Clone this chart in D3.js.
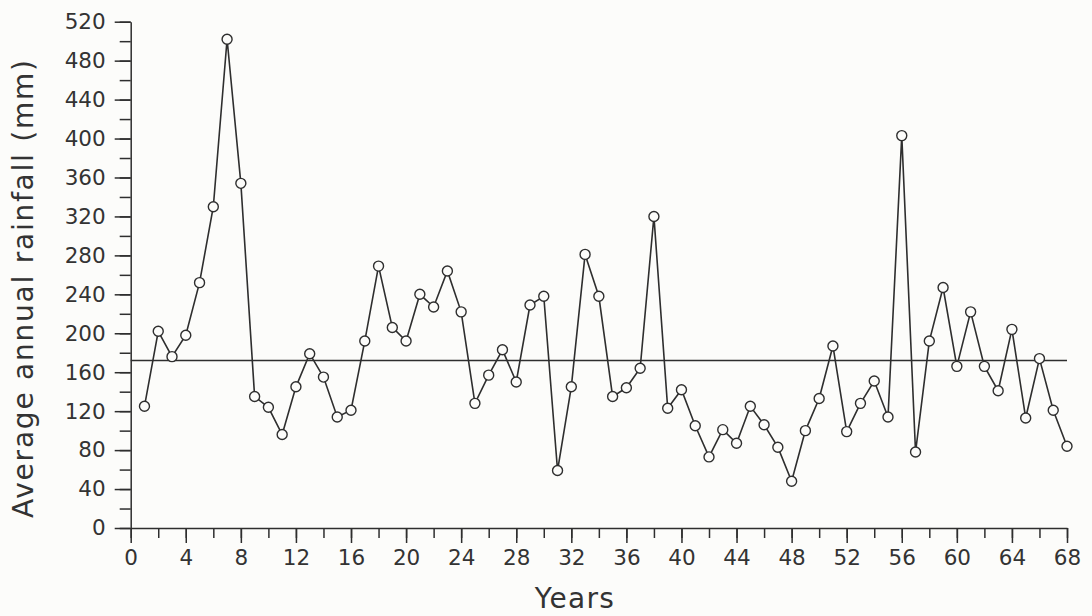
<!DOCTYPE html>
<html>
<head>
<meta charset="utf-8">
<script src="https://cdn.jsdelivr.net/npm/d3@7"></script>
<style>
  html, body { margin: 0; padding: 0; background: #fcfcfa; }
  svg { display: block; }
  text { font-family: "DejaVu Sans", sans-serif; fill: #333; }
</style>
</head>
<body>
<svg id="chart" width="1092" height="616"></svg>
<script>
const years = d3.range(1, 69);
const rainfall = [
  125, 202, 176, 198, 252, 330, 502, 354, 135, 124,
  96, 145, 179, 155, 114, 121, 192, 269, 206, 192,
  240, 227, 264, 222, 128, 157, 183, 150, 229, 238,
  59, 145, 281, 238, 135, 144, 164, 320, 123, 142,
  105, 73, 101, 87, 125, 106, 83, 48, 100, 133,
  187, 99, 128, 151, 114, 403, 78, 192, 247, 166,
  222, 166, 141, 204, 113, 174, 121, 84
];
const meanRainfall = [172];
const xMajorTicks = d3.range(0, 69, 4);
const xMinorTicks = d3.range(0, 69, 2);
const yMajorTicks = d3.range(0, 521, 40);
const yMinorTicks = d3.range(0, 521, 20);
const xTitle = "Years";
const yTitle = "Average annual rainfall (mm)";

const data = years.map((y, i) => ({ year: y, value: rainfall[i] }));
const ink = "#2e2e2e";
const font = "'DejaVu Sans', sans-serif";

const svg = d3.select("#chart");
const x = d3.scaleLinear().domain([0, 68]).range([130.7, 1067]);
const y = d3.scaleLinear().domain([0, 520]).range([528, 21.7]);

// Minor y ticks
svg.append("g")
  .attr("transform", `translate(${x(0)},0)`)
  .call(d3.axisLeft(y).tickValues(yMinorTicks).tickSize(11).tickSizeOuter(0).tickFormat(""))
  .call(g => g.select(".domain").remove())
  .call(g => g.selectAll("line").attr("stroke", ink).attr("stroke-width", 1.5));

// Major y ticks
svg.append("g")
  .attr("transform", `translate(${x(0)},0)`)
  .call(d3.axisLeft(y).tickValues(yMajorTicks).tickSize(16).tickSizeOuter(0).tickPadding(9))
  .call(g => g.select(".domain").attr("stroke", ink).attr("stroke-width", 1.5))
  .call(g => g.selectAll("line").attr("stroke", ink).attr("stroke-width", 1.5))
  .call(g => g.selectAll("text").attr("font-size", 21.5).attr("fill", ink).attr("font-family", font));

// Minor x ticks
svg.append("g")
  .attr("transform", `translate(0,${y(0)})`)
  .call(d3.axisBottom(x).tickValues(xMinorTicks).tickSize(10).tickSizeOuter(0).tickFormat(""))
  .call(g => g.select(".domain").remove())
  .call(g => g.selectAll("line").attr("stroke", ink).attr("stroke-width", 1.5));

// Major x ticks
svg.append("g")
  .attr("transform", `translate(0,${y(0)})`)
  .call(d3.axisBottom(x).tickValues(xMajorTicks).tickSize(15).tickSizeOuter(0).tickPadding(7))
  .call(g => g.select(".domain").attr("stroke", ink).attr("stroke-width", 1.5))
  .call(g => g.selectAll("line").attr("stroke", ink).attr("stroke-width", 1.5))
  .call(g => g.selectAll("text").attr("font-size", 21.5).attr("fill", ink).attr("font-family", font));

// Mean line
svg.append("g").selectAll("line.mean")
  .data(meanRainfall)
  .join("line")
  .attr("class", "mean")
  .attr("x1", x(0)).attr("x2", x(68))
  .attr("y1", d => y(d)).attr("y2", d => y(d))
  .attr("stroke", ink).attr("stroke-width", 1.5);

// Series line
svg.append("path")
  .datum(data)
  .attr("fill", "none")
  .attr("stroke", ink)
  .attr("stroke-width", 1.6)
  .attr("d", d3.line().x(d => x(d.year)).y(d => y(d.value)));

// Markers
svg.append("g").selectAll("circle")
  .data(data)
  .join("circle")
  .attr("cx", d => x(d.year))
  .attr("cy", d => y(d.value))
  .attr("r", 5)
  .attr("fill", "#fcfcfa")
  .attr("stroke", ink)
  .attr("stroke-width", 1.4);

// Axis titles
svg.append("text")
  .attr("x", 575)
  .attr("y", 608)
  .attr("text-anchor", "middle")
  .attr("font-size", 28)
  .attr("letter-spacing", 1.3)
  .attr("fill", ink)
  .text(xTitle);

svg.append("text")
  .attr("transform", "translate(33,289) rotate(-90)")
  .attr("text-anchor", "middle")
  .attr("font-size", 28)
  .attr("textLength", 458)
  .attr("lengthAdjust", "spacing")
  .attr("fill", ink)
  .text(yTitle);
</script>
</body>
</html>
